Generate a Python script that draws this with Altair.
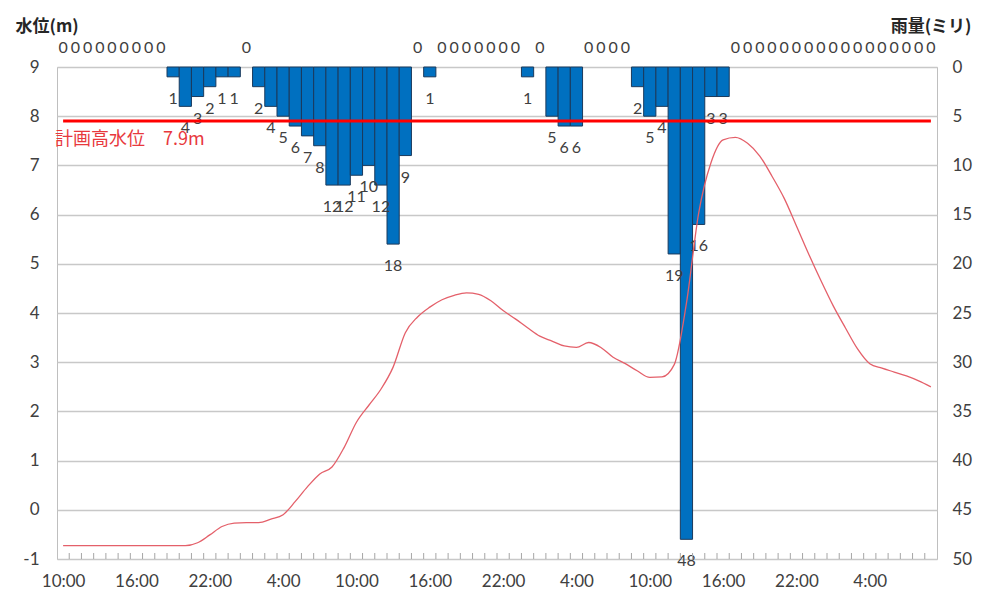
import json
import altair as alt
import pandas as pd

# hourly rainfall (mm), 72 hourly categories starting 10:00
rain = [0, 0, 0, 0, 0, 0, 0, 0, 0,
        1, 4, 3, 2, 1, 1,
        0,
        2, 4, 5, 6, 7, 8, 12, 12, 11, 10, 12, 18, 9,
        0,
        1,
        0, 0, 0, 0, 0, 0, 0,
        1,
        0,
        5, 6, 6,
        0, 0, 0, 0,
        2, 5, 4, 19, 48, 16, 3, 3,
        0, 0, 0, 0, 0, 0, 0, 0, 0, 0, 0, 0, 0, 0, 0, 0, 0]

# water level (m)
level = [-0.73, -0.73, -0.73, -0.73, -0.73, -0.73, -0.73, -0.73, -0.73, -0.73,
         -0.73, -0.67, -0.51, -0.34, -0.27, -0.26, -0.26, -0.19, -0.10, 0.17,
         0.47, 0.73, 0.87, 1.27, 1.78, 2.12, 2.45, 2.90, 3.60, 3.92,
         4.12, 4.27, 4.36, 4.41, 4.38, 4.25, 4.05, 3.88, 3.70, 3.53,
         3.43, 3.33, 3.30, 3.40, 3.30, 3.10, 2.97, 2.82, 2.69, 2.70,
         2.95, 4.20, 6.03, 7.05, 7.52, 7.57, 7.45, 7.19, 6.78, 6.33,
         5.77, 5.20, 4.66, 4.15, 3.70, 3.27, 2.97, 2.88, 2.80, 2.72,
         2.62, 2.50]

idx = list(range(len(rain)))
tick_pos = [0, 6, 12, 18, 24, 30, 36, 42, 48, 54, 60, 66]
tick_labels = ["10:00", "16:00", "22:00", "4:00", "10:00", "16:00",
               "22:00", "4:00", "10:00", "16:00", "22:00", "4:00"]
level_ticks = [-1, 0, 1, 2, 3, 4, 5, 6, 7, 8, 9]
rain_ticks = [0, 5, 10, 15, 20, 25, 30, 35, 40, 45, 50]
plan_level = 7.9
plan_label = "計画高水位　7.9m"
plan_span = [0, 71]

df = pd.DataFrame({"idx": idx, "rain": rain, "level": level})
bounds = pd.DataFrame({"b": [i + 0.5 for i in idx[:-1]]})
plan_df = pd.DataFrame({"idx": plan_span, "level": [plan_level] * len(plan_span)})
plan_txt = pd.DataFrame({"idx": [-0.5], "level": [plan_level], "label": [plan_label]})

W, H = 880, 492
NUMFONT = "Lato"
JPFONT = "Noto Sans CJK JP"
TXT = "#404040"

xscale = alt.Scale(domain=[-0.5, 71.5], nice=False, zero=False)
label_expr = json.dumps(tick_labels, ensure_ascii=False) + "[round(datum.value / 6)]"
xaxis = alt.Axis(values=tick_pos, labelExpr=label_expr, grid=False, ticks=False,
                 domain=False, labelFont=NUMFONT, labelFontSize=17, labelColor=TXT,
                 labelPadding=14, title=None, labelFlush=False)

rscale = alt.Scale(domain=[0, 50], reverse=True, nice=False, zero=True)
lscale = alt.Scale(domain=[-1, 9], nice=False, zero=False)

raxis = alt.Axis(orient="right", values=rain_ticks, grid=False, ticks=False, domain=False,
                 labelFont=NUMFONT, labelFontSize=17, labelColor=TXT, labelPadding=15,
                 title="雨量(ミリ)", titleAngle=0, titleAlign="right",
                 titleBaseline="alphabetic", titleX=34, titleY=-36,
                 titleFont=JPFONT, titleFontSize=17, titleFontWeight="bold",
                 titleColor="#262626")
laxis = alt.Axis(orient="left", values=level_ticks, grid=True, gridColor="#c8c8c8",
                 gridWidth=1.5, ticks=False, domain=False,
                 labelExpr="replace(datum.label, '\u2212', '-')",
                 labelFont=NUMFONT, labelFontSize=17, labelColor=TXT, labelPadding=18,
                 title="水位(m)", titleAngle=0, titleAlign="left",
                 titleBaseline="alphabetic", titleX=-42, titleY=-36,
                 titleFont=JPFONT, titleFontSize=17, titleFontWeight="bold",
                 titleColor="#262626")

base = alt.Chart(df)

bars = base.transform_filter("datum.rain > 0").transform_calculate(
    x0="datum.idx - 0.5", x1="datum.idx + 0.5"
).mark_bar(color="#0070C0", stroke="#1b3a5c", strokeWidth=1).encode(
    x=alt.X("x0:Q", scale=xscale, axis=xaxis),
    x2="x1:Q",
    y=alt.Y("rain:Q", scale=rscale, axis=raxis),
    y2=alt.datum(0),
)

lab_pos = base.transform_filter("datum.rain > 0").mark_text(
    dy=22, baseline="middle", font=NUMFONT, fontSize=16, color=TXT
).encode(
    x=alt.X("idx:Q", scale=xscale, axis=xaxis),
    y=alt.Y("rain:Q", scale=rscale, axis=raxis),
    text="rain:Q",
)

lab_zero = base.transform_filter("datum.rain == 0").mark_text(
    dy=-19, baseline="middle", font=NUMFONT, fontSize=16, color=TXT
).encode(
    x=alt.X("idx:Q", scale=xscale, axis=xaxis),
    y=alt.Y("rain:Q", scale=rscale, axis=raxis),
    text="rain:Q",
)

rain_layer = alt.layer(bars, lab_pos, lab_zero)

ticks = alt.Chart(bounds).mark_rule(color="#a6a6a6", strokeWidth=1).encode(
    x=alt.X("b:Q", scale=xscale, axis=xaxis),
    y=alt.value(H),
    y2=alt.value(H - 6),
)

line = base.mark_line(color="#e4606a", strokeWidth=1.3, interpolate="monotone").encode(
    x=alt.X("idx:Q", scale=xscale, axis=xaxis),
    y=alt.Y("level:Q", scale=lscale, axis=laxis),
)

plan = alt.Chart(plan_df).mark_line(color="#ff0000", strokeWidth=3).encode(
    x=alt.X("idx:Q", scale=xscale, axis=xaxis),
    y=alt.Y("level:Q", scale=lscale, axis=laxis),
)

plan_text = alt.Chart(plan_txt).mark_text(
    align="left", baseline="middle", dy=19, dx=-2, font=JPFONT, fontSize=18,
    color="#e8383d"
).encode(
    x=alt.X("idx:Q", scale=xscale, axis=xaxis),
    y=alt.Y("level:Q", scale=lscale, axis=laxis),
    text="label:N",
)

level_layer = alt.layer(ticks, line, plan, plan_text)

chart = alt.layer(rain_layer, level_layer).resolve_scale(y="independent").properties(
    width=W, height=H,
    autosize=alt.AutoSizeParams(type="none"),
    padding={"left": 49, "top": 59, "right": 38, "bottom": 30},
    background="white",
).configure_view(stroke="#bfbfbf", strokeWidth=1)

chart.save("out.html", embed_options={"renderer": "svg", "actions": False})
